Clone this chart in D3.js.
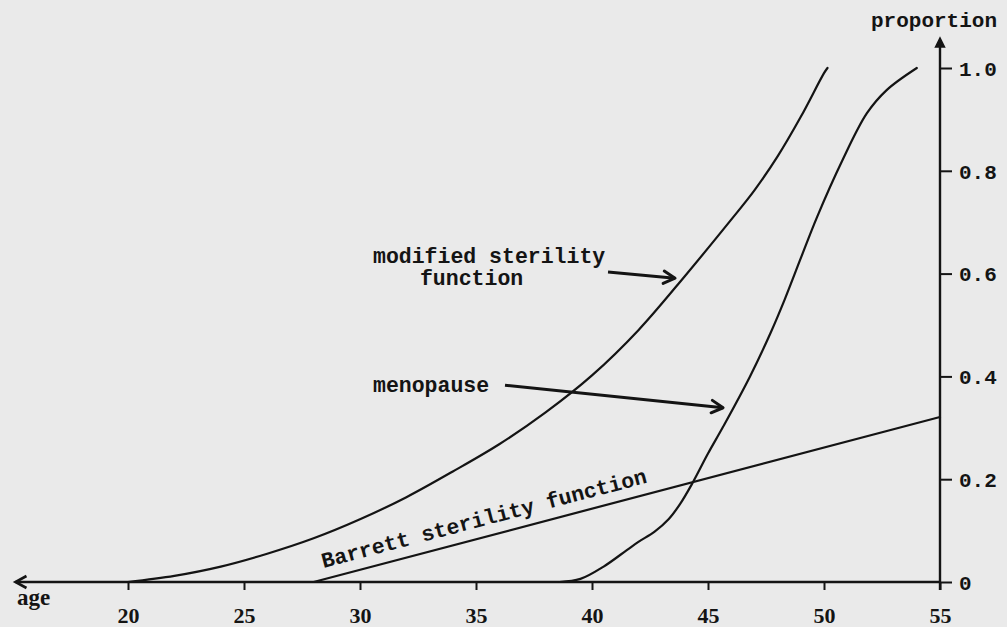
<!DOCTYPE html>
<html>
<head>
<meta charset="utf-8">
<script src="https://cdn.jsdelivr.net/npm/d3@7"></script>
<style>
  html, body { margin: 0; padding: 0; background: #eaeaea; }
  svg { display: block; }
</style>
</head>
<body>
<svg id="chart" width="1007" height="627"></svg>
<script>
// ---- data ----
const xTicks = [20, 25, 30, 35, 40, 45, 50, 55];
const yTicks = [0, 0.2, 0.4, 0.6, 0.8, 1.0];

const modifiedAges   = [20, 22, 24, 26, 28, 30, 32, 34, 36, 38, 40, 42, 44, 46, 47, 48, 49, 50, 50.15];
const modifiedValues = [0, 0.012, 0.030, 0.055, 0.085, 0.122, 0.165, 0.215, 0.268, 0.330, 0.402, 0.490, 0.595, 0.705, 0.762, 0.828, 0.905, 0.990, 1.0];

const menopauseAges   = [38.6, 39.5, 40.5, 41.5, 42.0, 42.7, 43.3, 43.8, 44.3, 45.0, 45.65, 46.8, 47.7, 48.3, 49.0, 49.7, 50.8, 51.85, 52.7, 54.0];
const menopauseValues = [0, 0.006, 0.030, 0.062, 0.078, 0.098, 0.122, 0.152, 0.190, 0.250, 0.302, 0.399, 0.485, 0.549, 0.630, 0.710, 0.821, 0.912, 0.957, 1.0];

const barrettAges   = [28, 55];
const barrettValues = [0, 0.321];

// ---- setup ----
const svg = d3.select("#chart");
const ink = "#141414";
const mono = "'Liberation Mono', 'DejaVu Sans Mono', monospace";
const serif = "'Liberation Serif', 'DejaVu Serif', serif";

const x = d3.scaleLinear().domain([20, 55]).range([128, 940]);
const y = d3.scaleLinear().domain([0, 1]).range([582, 68]);

// ---- x axis ----
const xAxis = d3.axisBottom(x).tickValues(xTicks).tickSize(8).tickSizeOuter(0).tickPadding(17)
  .tickFormat(d3.format("d"));
const gx = svg.append("g").attr("transform", `translate(0,${y(0)})`).call(xAxis);
gx.select(".domain").remove();
gx.selectAll(".tick line").attr("stroke", ink).attr("stroke-width", 2);
gx.selectAll(".tick text").attr("fill", ink).attr("font-family", serif)
  .attr("font-weight", "bold").attr("font-size", 22);

// x axis line with left arrow
const xLeft = x(15.15);
svg.append("line").attr("x1", xLeft).attr("x2", x(55)).attr("y1", y(0)).attr("y2", y(0))
  .attr("stroke", ink).attr("stroke-width", 2.4);
svg.append("path")
  .attr("d", `M${xLeft + 11},${y(0) - 6} L${xLeft},${y(0)} L${xLeft + 11},${y(0) + 6}`)
  .attr("fill", "none").attr("stroke", ink).attr("stroke-width", 2.6).attr("stroke-linejoin", "miter");

svg.append("text").attr("x", 17).attr("y", 605).text("age")
  .attr("font-family", serif).attr("font-weight", "bold").attr("font-size", 23).attr("fill", ink);

// ---- y axis ----
const yAxis = d3.axisRight(y).tickValues(yTicks).tickSize(12).tickSizeOuter(0).tickPadding(7)
  .tickFormat(d => d === 0 ? "0" : d3.format(".1f")(d));
const gy = svg.append("g").attr("transform", `translate(${x(55)},0)`).call(yAxis);
gy.select(".domain").remove();
gy.selectAll(".tick line").attr("stroke", ink).attr("stroke-width", 2);
gy.selectAll(".tick text").attr("fill", ink).attr("font-family", mono)
  .attr("font-weight", "bold").attr("font-size", 21).attr("dy", "0.35em");

const yTop = 38;
svg.append("line").attr("x1", x(55)).attr("x2", x(55)).attr("y1", y(0) + 8).attr("y2", yTop + 2)
  .attr("stroke", ink).attr("stroke-width", 2.4);
svg.append("path")
  .attr("d", `M${x(55) - 4.5},${yTop + 9} L${x(55)},${yTop} L${x(55) + 4.5},${yTop + 9} Z`)
  .attr("fill", ink).attr("stroke", ink).attr("stroke-width", 1.5);

svg.append("text").attr("x", 871).attr("y", 27).text("proportion")
  .attr("font-family", mono).attr("font-weight", "bold").attr("font-size", 21).attr("fill", ink);

// ---- curves ----
const line = d3.line().x(d => x(d[0])).y(d => y(d[1])).curve(d3.curveCatmullRom.alpha(0.5));
const series = [
  d3.zip(modifiedAges, modifiedValues),
  d3.zip(menopauseAges, menopauseValues),
  d3.zip(barrettAges, barrettValues)
];
svg.selectAll("path.curve").data(series).join("path").attr("class", "curve")
  .attr("d", line).attr("fill", "none").attr("stroke", ink).attr("stroke-width", 2.2)
  .attr("stroke-linecap", "round");

// ---- annotations ----
function arrow(a0, p0, a1, p1) {
  const x0 = x(a0), y0 = y(p0), x1 = x(a1), y1 = y(p1);
  svg.append("line").attr("x1", x0).attr("y1", y0).attr("x2", x1).attr("y2", y1)
    .attr("stroke", ink).attr("stroke-width", 3);
  const ang = Math.atan2(y1 - y0, x1 - x0), L = 13, w = 0.5;
  const p = (s) => [x1 - L * Math.cos(ang + s * w), y1 - L * Math.sin(ang + s * w)];
  const [ax1, ay1] = p(1), [ax2, ay2] = p(-1);
  svg.append("path").attr("d", `M${ax1},${ay1} L${x1},${y1} L${ax2},${ay2}`)
    .attr("fill", "none").attr("stroke", ink).attr("stroke-width", 3)
    .attr("stroke-linejoin", "round").attr("stroke-linecap", "round");
}
function label(txt, a, p, anchor, dyPx) {
  svg.append("text").attr("x", x(a)).attr("y", y(p) + (dyPx || 0)).text(txt)
    .attr("font-family", mono).attr("font-weight", "bold").attr("font-size", 21.5)
    .attr("fill", ink).attr("text-anchor", anchor || "start");
}

// modified sterility function
label("modified sterility", 30.56, 0.62);
label("function", 34.81, 0.62, "middle", 22);
arrow(40.69, 0.603, 43.58, 0.591);

// menopause
label("menopause", 30.56, 0.370);
arrow(36.25, 0.383, 45.65, 0.339);

// Barrett sterility function (along its line)
{
  const bx0 = x(barrettAges[0]), by0 = y(barrettValues[0]);
  const bx1 = x(barrettAges[1]), by1 = y(barrettValues[1]);
  const ang = Math.atan2(by1 - by0, bx1 - bx0) * 180 / Math.PI;
  const a = 28.55;
  const px = x(a), py = y(barrettValues[0] + (a - barrettAges[0]) / (barrettAges[1] - barrettAges[0]) * (barrettValues[1] - barrettValues[0]));
  svg.append("text").attr("transform", `translate(${px},${py}) rotate(${ang}) translate(0,-11)`)
    .text("Barrett sterility function")
    .attr("font-family", mono).attr("font-weight", "bold").attr("font-size", 21.5).attr("fill", ink);
}
</script>
</body>
</html>
